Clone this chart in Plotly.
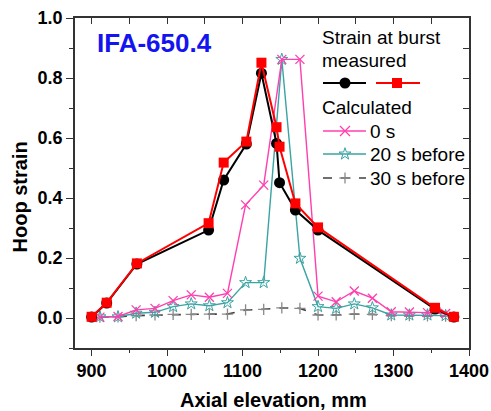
import plotly.graph_objects as go

# ---------------- data ----------------
meas_x = [900, 920, 960, 1055, 1075, 1105, 1125, 1145, 1149, 1170, 1200, 1355, 1380]
meas_black = [0.003, 0.05, 0.18, 0.293, 0.46, 0.58, 0.816, 0.582, 0.451, 0.36, 0.293, 0.03, 0.003]
meas_red = [0.004, 0.051, 0.182, 0.316, 0.518, 0.588, 0.851, 0.636, 0.571, 0.382, 0.302, 0.034, 0.004]

calc_x = [911, 935, 959, 984, 1008, 1032, 1056, 1080, 1104, 1128,
          1152, 1176, 1200, 1224, 1248, 1272, 1297, 1321, 1345, 1369]
calc_0s = [0.003, 0.005, 0.027, 0.032, 0.058, 0.077, 0.069, 0.082, 0.377, 0.443,
           0.862, 0.862, 0.073, 0.054, 0.09, 0.066, 0.021, 0.02, 0.018, 0.015]
calc_20s = [0.004, 0.004, 0.016, 0.019, 0.038, 0.047, 0.041, 0.051, 0.118, 0.118,
            0.862, 0.199, 0.038, 0.032, 0.047, 0.034, 0.01, 0.01, 0.01, 0.008]
calc_30s = [0.003, 0.004, 0.008, 0.01, 0.012, 0.012, 0.013, 0.013, 0.027, 0.029,
            0.034, 0.032, 0.01, 0.01, 0.013, 0.012, 0.008, 0.008, 0.007, 0.006]

x_ticks = [900, 1000, 1100, 1200, 1300, 1400]
y_ticks = [0.0, 0.2, 0.4, 0.6, 0.8, 1.0]

# ---------------- style ----------------
PL, PR, PT, PB = 75, 469, 18, 348   # plot area in page pixels
W, H = 491, 411
ML, MT = PL, PT
MR = W - PR
MB = H - PB
FONT = "Liberation Sans, Arial, sans-serif"
C_BLACK = "#000000"
C_RED = "#ff0000"
C_PINK = "#ff3fae"
C_TEAL = "#3aa3a3"
C_GRAY = "#404040"
C_GRAYM = "#8a8a8a"

fig = go.Figure()

fig.add_trace(go.Scatter(x=calc_x, y=calc_30s, mode="lines+markers",
                         line=dict(color=C_GRAY, width=1.6, dash="dash"),
                         marker=dict(symbol="cross-thin-open", size=8, color=C_GRAYM,
                                     line=dict(color=C_GRAYM, width=1.3))))
fig.add_trace(go.Scatter(x=calc_x, y=calc_20s, mode="lines+markers",
                         line=dict(color=C_TEAL, width=1.4),
                         marker=dict(symbol="star-open", size=9, color=C_TEAL,
                                     line=dict(color=C_TEAL, width=1))))
fig.add_trace(go.Scatter(x=calc_x, y=calc_0s, mode="lines+markers",
                         line=dict(color=C_PINK, width=1.4),
                         marker=dict(symbol="x-thin-open", size=9, color=C_PINK,
                                     line=dict(color=C_PINK, width=1.3))))
fig.add_trace(go.Scatter(x=meas_x, y=meas_black, mode="lines+markers",
                         line=dict(color=C_BLACK, width=2),
                         marker=dict(symbol="circle", size=11, color=C_BLACK)))
fig.add_trace(go.Scatter(x=meas_x, y=meas_red, mode="lines+markers",
                         line=dict(color=C_RED, width=2),
                         marker=dict(symbol="square", size=10, color=C_RED)))

# ---------------- legend (drawn in page-pixel coordinates on a hidden axis) ----------------
LX0, LX1, LXM = 323, 366, 345
RX0, RX1, RXM = 376, 420, 397
rows = {"meas": 83, "0s": 131, "20s": 154, "30s": 178}
leg = dict(xaxis="x3", yaxis="y3", showlegend=False, hoverinfo="skip")
fig.add_trace(go.Scatter(x=[LX0, LX1], y=[rows["meas"]] * 2, mode="lines",
                         line=dict(color=C_BLACK, width=2), **leg))
fig.add_trace(go.Scatter(x=[LXM], y=[rows["meas"]], mode="markers",
                         marker=dict(symbol="circle", size=11, color=C_BLACK), **leg))
fig.add_trace(go.Scatter(x=[RX0, RX1], y=[rows["meas"]] * 2, mode="lines",
                         line=dict(color=C_RED, width=2), **leg))
fig.add_trace(go.Scatter(x=[RXM], y=[rows["meas"]], mode="markers",
                         marker=dict(symbol="square", size=10, color=C_RED), **leg))
fig.add_trace(go.Scatter(x=[LX0, LX1], y=[rows["0s"]] * 2, mode="lines",
                         line=dict(color=C_PINK, width=1.4), **leg))
fig.add_trace(go.Scatter(x=[LXM], y=[rows["0s"]], mode="markers",
                         marker=dict(symbol="x-thin-open", size=10, color=C_PINK,
                                     line=dict(color=C_PINK, width=1.3)), **leg))
fig.add_trace(go.Scatter(x=[LX0, LX1], y=[rows["20s"]] * 2, mode="lines",
                         line=dict(color=C_TEAL, width=1.4), **leg))
fig.add_trace(go.Scatter(x=[LXM], y=[rows["20s"]], mode="markers",
                         marker=dict(symbol="star-open", size=9, color=C_TEAL,
                                     line=dict(color=C_TEAL, width=1)), **leg))
fig.add_trace(go.Scatter(x=[LX0, LX1], y=[rows["30s"]] * 2, mode="lines",
                         line=dict(color=C_GRAY, width=1.6, dash="dash"), **leg))
fig.add_trace(go.Scatter(x=[LXM], y=[rows["30s"]], mode="markers",
                         marker=dict(symbol="cross-thin-open", size=8, color=C_GRAYM,
                                     line=dict(color=C_GRAYM, width=1.3)), **leg))

def px_ann(text, x, y, size=19, color="#000", bold=False, xanchor="left"):
    fig.add_annotation(x=x, y=y, xref="x3", yref="y3", text=f"<b>{text}</b>" if bold else text,
                       showarrow=False, xanchor=xanchor, yanchor="middle",
                       font=dict(family=FONT, size=size, color=color))

px_ann("Strain at burst", 320, 37)
px_ann("measured", 320, 60)
px_ann("Calculated", 320, 107)
px_ann("0 s", 368, rows["0s"])
px_ann("20 s before", 368, rows["20s"])
px_ann("30 s before", 368, rows["30s"])
px_ann("IFA-650.4", 95, 43, size=26, color="#1414f0", bold=True)

def to_paper(px, py):
    return (px - PL) / (PR - PL), (PB - py) / (PB - PT)

yt_x, yt_y = to_paper(19.5, 197)
xt_x, xt_y = to_paper(273, 400)
fig.add_annotation(x=yt_x, y=yt_y, xref="paper", yref="paper",
                   text="<b>Hoop strain</b>", textangle=-90, showarrow=False,
                   xanchor="center", yanchor="middle",
                   font=dict(family=FONT, size=20, color="#000"))
fig.add_annotation(x=xt_x, y=xt_y, xref="paper", yref="paper",
                   text="<b>Axial elevation, mm</b>", showarrow=False,
                   xanchor="center", yanchor="middle",
                   font=dict(family=FONT, size=20, color="#000"))

axis_common = dict(showline=True, linecolor="#333", linewidth=1.5, showgrid=False,
                   zeroline=False, tickcolor="#333", tickwidth=1.3, automargin=False)

fig.update_layout(
    width=W, height=H,
    margin=dict(l=ML, r=MR, t=MT, b=MB, autoexpand=False),
    paper_bgcolor="white", plot_bgcolor="white",
    showlegend=False,
    font=dict(family=FONT, color="#000"),
    xaxis=dict(range=[878, 1400], tickvals=x_ticks, ticks="outside", ticklen=6,
               minor=dict(dtick=50, tick0=900, ticks="outside", ticklen=3, tickcolor="#333"),
               tickfont=dict(size=18, family=FONT, weight="bold"),
               **axis_common),
    yaxis=dict(range=[-0.1, 1.0], tickvals=y_ticks, tickformat=".1f", ticks="outside",
               ticklen=7,
               minor=dict(dtick=0.1, tick0=0, ticks="outside", ticklen=4, tickcolor="#333"),
               tickfont=dict(size=18, family=FONT, weight="bold"),
               **axis_common),
    xaxis2=dict(range=[878, 1400], overlaying="x", side="top", anchor="y",
                tick0=900, dtick=50, ticks="inside", ticklen=6, showticklabels=False,
                **axis_common),
    yaxis2=dict(range=[-0.1, 1.0], overlaying="y", side="right", anchor="x",
                tick0=0, dtick=0.1, ticks="inside", ticklen=6, showticklabels=False,
                **axis_common),
    xaxis3=dict(range=[PL, PR], overlaying="x", visible=False, fixedrange=True),
    yaxis3=dict(range=[PB, PT], overlaying="y", visible=False, fixedrange=True),
)

# invisible traces so that the mirror axes are drawn
fig.add_trace(go.Scatter(x=[900], y=[0], xaxis="x2", yaxis="y", mode="markers",
                         marker=dict(opacity=0), showlegend=False, hoverinfo="skip"))
fig.add_trace(go.Scatter(x=[900], y=[0], xaxis="x", yaxis="y2", mode="markers",
                         marker=dict(opacity=0), showlegend=False, hoverinfo="skip"))

fig.write_html("out.html",
               config={"displayModeBar": False},
               post_script="document.body.style.margin='0';"
                           "document.body.style.overflow='hidden';")
